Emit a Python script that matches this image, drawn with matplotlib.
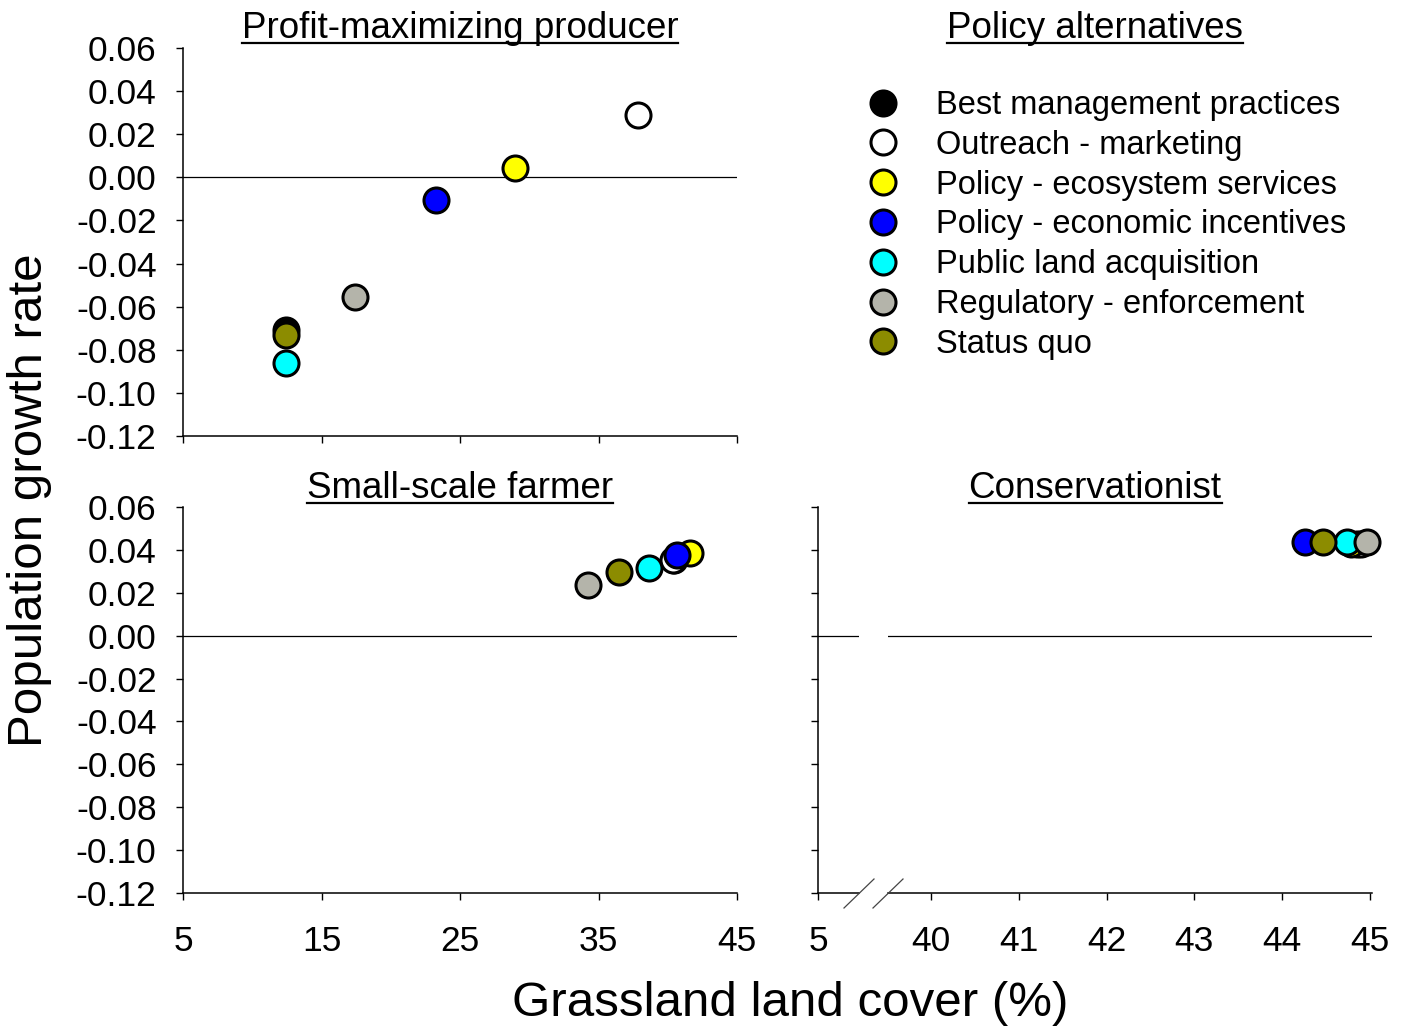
import matplotlib
matplotlib.use("Agg")
import matplotlib.pyplot as plt
from matplotlib.lines import Line2D

plt.rcParams['font.family'] = ['Liberation Sans', 'DejaVu Sans']
plt.rcParams['axes.unicode_minus'] = False

# ---------------- data ----------------
categories = ["Best management practices", "Outreach - marketing",
              "Policy - ecosystem services", "Policy - economic incentives",
              "Public land acquisition", "Regulatory - enforcement", "Status quo"]
colors = ["#000000", "#FFFFFF", "#FFFF00", "#0000FF", "#00FFFF", "#B4B4AA", "#8C8C00"]

profit_x = [12.44, 37.85, 28.97, 23.27, 12.44, 17.42, 12.44]
profit_y = [-0.0708, 0.0289, 0.0043, -0.0105, -0.0861, -0.0555, -0.0731]

small_x = [40.45, 40.38, 41.60, 40.67, 38.65, 34.24, 36.48]
small_y = [0.0355, 0.0353, 0.0385, 0.0376, 0.0316, 0.0236, 0.0297]

cons_x = [44.85, 44.90, 44.78, 44.26, 44.74, 44.97, 44.47]
cons_y = [0.0428, 0.0428, 0.0428, 0.0437, 0.0437, 0.0437, 0.0437]

yticks = [0.06, 0.04, 0.02, 0.00, -0.02, -0.04, -0.06, -0.08, -0.10, -0.12]
left_xticks = [5, 15, 25, 35, 45]
right_xticks = [40, 41, 42, 43, 44, 45]

W, H = 1401, 1029
fig = plt.figure(figsize=(W / 100, H / 100), dpi=100)


def pos(x0, x1, y0, y1):
    return [x0 / W, 1 - y1 / H, (x1 - x0) / W, (y1 - y0) / H]


FS = 25.5
TFS = 26.5
MS = 18
MEW = 2.2


def style(ax):
    ax.spines['top'].set_visible(False)
    ax.spines['right'].set_visible(False)
    for s in ax.spines.values():
        s.set_linewidth(1.1)
    ax.tick_params(direction='out', length=5, width=1.0, labelsize=FS)
    ax.tick_params(axis='y', pad=14)
    ax.tick_params(axis='x', pad=18)
    ax.set_ylim(-0.12, 0.06)
    ax.set_yticks(yticks)
    ax.set_yticklabels([f"{v:.2f}" for v in yticks])
    ax.axhline(0, color='black', lw=0.9, zorder=1)


def scatter(ax, xs, ys):
    for x, y, c in zip(xs, ys, colors):
        ax.plot([x], [y], 'o', ms=MS, mfc=c, mec='black', mew=MEW, zorder=3,
                clip_on=False)


ax1 = fig.add_axes(pos(183, 737, 48, 436))
style(ax1)
ax1.set_xlim(5, 45)
ax1.set_xticks(left_xticks)
ax1.set_xticklabels([])
scatter(ax1, profit_x, profit_y)

ax2 = fig.add_axes(pos(183, 737, 507, 893))
style(ax2)
ax2.set_xlim(5, 45)
ax2.set_xticks(left_xticks)
ax2.set_xticklabels([str(v) for v in left_xticks])
scatter(ax2, small_x, small_y)

ax3s = fig.add_axes(pos(818, 859, 507, 893))
style(ax3s)
ax3s.set_xlim(5, 5 + 41 / 87.8)
ax3s.set_xticks([5])
ax3s.set_xticklabels(["5"])
ax3s.set_yticklabels([])

ax3 = fig.add_axes(pos(888, 1372, 507, 893))
style(ax3)
ax3.spines['left'].set_visible(False)
ax3.tick_params(axis='y', left=False, labelleft=False)
ax3.set_xlim(40 - 43 / 87.8, 45 + 2 / 87.8)
ax3.set_xticks(right_xticks)
ax3.set_xticklabels([str(v) for v in right_xticks])
scatter(ax3, cons_x, cons_y)

# axis break marks
for x0 in (844, 873):
    fig.add_artist(Line2D([x0 / W, (x0 + 30) / W], [1 - 908 / H, 1 - 879 / H],
                          color='#444444', lw=0.9))

# titles (underlined)
titles = [("Profit-maximizing producer", 460, 28),
          ("Policy alternatives", 1095, 28),
          ("Small-scale farmer", 460, 488),
          ("Conservationist", 1095, 488)]
title_texts = []
for t, x, y in titles:
    tt = fig.text(x / W, 1 - y / H, t, ha='center', va='center', fontsize=TFS)
    title_texts.append((tt, y))

fig.text(790 / W, 1 - 1004 / H, "Grassland land cover (%)", ha='center', va='center',
         fontsize=35.5)
fig.text(30 / W, 1 - 500 / H, "Population growth rate", ha='center', va='center',
         fontsize=35.5, rotation=90)

# legend
handles = [Line2D([], [], ls='none', marker='o', ms=MS, mfc=c, mec='black', mew=MEW)
           for c in colors]
fig.legend(handles, categories, loc='upper left',
           bbox_to_anchor=(867 / W, 1 - 90 / H), frameon=False, fontsize=23.5,
           handlelength=1.0, handletextpad=1.1, labelspacing=0.27, borderpad=0,
           borderaxespad=0)

fig.canvas.draw()
r = fig.canvas.get_renderer()
for tt, y in title_texts:
    bb = tt.get_window_extent(renderer=r)
    uy = 1 - (y + 15) / H
    fig.add_artist(Line2D([bb.x0 / W, bb.x1 / W], [uy, uy], color='black', lw=1.6))

fig.savefig("out.png", dpi=100)
